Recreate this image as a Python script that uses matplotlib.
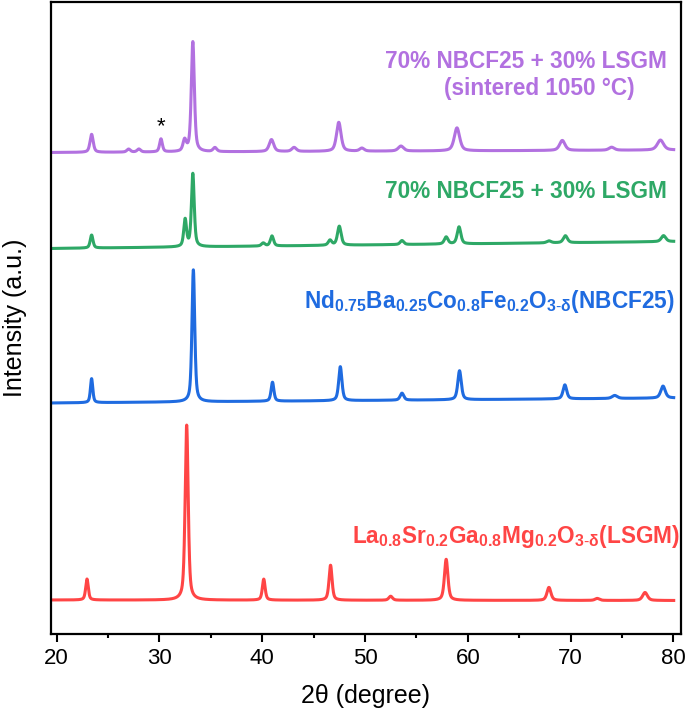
import numpy as np
import matplotlib
matplotlib.use("Agg")
import matplotlib.pyplot as plt

plt.rcParams['font.family'] = ['Liberation Sans', 'DejaVu Sans']
plt.rcParams['mathtext.fontset'] = 'custom'
plt.rcParams['mathtext.rm'] = 'Liberation Sans'
plt.rcParams['mathtext.bf'] = 'Liberation Sans:bold'
plt.rcParams['mathtext.it'] = 'Liberation Sans:italic'

# ---- data (2theta range, peak tables: position, intensity, FWHM) ----
two_theta_start = 19.4
two_theta_end = 80.05

lsgm_pos = [22.95, 32.65, 40.15, 46.65, 52.5, 57.9, 67.9, 72.6, 77.25]
lsgm_int = [21, 175, 21, 35, 4, 41, 13, 2, 8]
lsgm_fwhm = [0.3, 0.35, 0.32, 0.35, 0.42, 0.4, 0.45, 0.5, 0.55]
lsgm_bg = [33.5, 33.0]

nbcf_pos = [23.4, 33.3, 41.0, 47.6, 53.6, 59.2, 69.45, 74.3, 79.0]
nbcf_int = [24, 132, 19, 34, 7, 29, 14, 3, 12]
nbcf_fwhm = [0.27, 0.32, 0.32, 0.37, 0.42, 0.4, 0.42, 0.6, 0.52]
nbcf_bg = [230.5, 235.5]

mix_pos = [23.4, 32.5, 33.25, 40.1, 40.95, 46.6, 47.5, 53.6, 57.9, 59.15, 67.9, 69.5, 79.05]
mix_int = [13, 27, 73, 3, 10, 5, 19, 4, 7, 17, 2, 7, 6]
mix_fwhm = [0.32, 0.32, 0.32, 0.4, 0.37, 0.4, 0.42, 0.42, 0.42, 0.42, 0.5, 0.47, 0.52]
mix_bg = [385.0, 392.0]

sint_pos = [23.4, 27.0, 28.0, 30.15, 32.45, 33.25, 35.4, 40.9, 43.1, 47.45, 49.7, 53.5, 58.95, 69.2, 74.0, 78.75]
sint_int = [18, 3, 3, 13, 11, 110, 4, 12, 4, 29, 3, 5, 23, 10, 3, 10]
sint_fwhm = [0.37, 0.4, 0.4, 0.32, 0.37, 0.35, 0.42, 0.52, 0.52, 0.52, 0.52, 0.62, 0.62, 0.62, 0.62, 0.72]
sint_bg = [481.0, 483.5]

colors = {'lsgm': '#FF4545', 'nbcf': '#1F6BE0', 'mix': '#2EA866', 'sint': '#B271E0'}


def profile(x, pos, inten, fwhm, bg, eta=0.55):
    y = bg[0] + (bg[1] - bg[0]) * (x - two_theta_start) / (two_theta_end - two_theta_start)
    for p, h, w in zip(pos, inten, fwhm):
        g = np.exp(-4 * np.log(2) * ((x - p) / w) ** 2)
        l = 1.0 / (1.0 + 4 * ((x - p) / w) ** 2)
        y = y + h * (eta * l + (1 - eta) * g)
    return y


x = np.arange(two_theta_start, two_theta_end, 0.01)

fig = plt.figure(figsize=(6.85, 7.13), dpi=100)
ax = fig.add_axes([50.5 / 685, 1 - 633.5 / 713, (681 - 50.5) / 685, (633.5 - 1.5) / 713])

lw = 2.2
ax.plot(x, profile(x, lsgm_pos, lsgm_int, lsgm_fwhm, lsgm_bg), color=colors['lsgm'], lw=lw)
ax.plot(x, profile(x, nbcf_pos, nbcf_int, nbcf_fwhm, nbcf_bg), color=colors['nbcf'], lw=lw)
ax.plot(x, profile(x, mix_pos, mix_int, mix_fwhm, mix_bg), color=colors['mix'], lw=lw)
ax.plot(x, profile(x, sint_pos, sint_int, sint_fwhm, sint_bg), color=colors['sint'], lw=lw)

ax.set_xlim(19.4, 80.75)
ax.set_ylim(0, 632)

# asterisk above impurity peak
star_y = profile(np.array([30.15]), sint_pos, sint_int, sint_fwhm, sint_bg)[0]
ax.annotate('*', xy=(30.15, star_y), xytext=(0, 1), textcoords='offset points',
            ha='center', va='bottom', fontsize=16, color='black')

fs = 16.3
ax.text(0.978, 0.905, '70% NBCF25 + 30% LSGM', transform=ax.transAxes, ha='right', va='center',
        fontsize=fs, fontweight='bold', color=colors['sint'])
ax.text(0.775, 0.862, '(sintered 1050 °C)', transform=ax.transAxes, ha='center', va='center',
        fontsize=fs, fontweight='bold', color=colors['sint'])
ax.text(0.978, 0.699, '70% NBCF25 + 30% LSGM', transform=ax.transAxes, ha='right', va='center',
        fontsize=fs, fontweight='bold', color=colors['mix'])
ax.text(0.99, 0.525,
        r'$\mathbf{Nd_{0.75}Ba_{0.25}Co_{0.8}Fe_{0.2}O_{3\text{-}δ}(NBCF25)}$',
        transform=ax.transAxes, ha='right', va='center', fontsize=fs, color=colors['nbcf'])
ax.text(0.998, 0.153,
        r'$\mathbf{La_{0.8}Sr_{0.2}Ga_{0.8}Mg_{0.2}O_{3\text{-}δ}(LSGM)}$',
        transform=ax.transAxes, ha='right', va='center', fontsize=fs, color=colors['lsgm'])

ax.set_xticks([20, 30, 40, 50, 60, 70, 80])
ax.set_xticks([25, 35, 45, 55, 65, 75], minor=True)
ax.set_yticks([])
ax.tick_params(axis='x', which='major', direction='out', length=5.5, width=1.5, labelsize=16, pad=5)
ax.tick_params(axis='x', which='minor', direction='out', length=3, width=1.5)
for s in ax.spines.values():
    s.set_linewidth(1.6)

ax.set_xlabel('2θ (degree)', fontsize=18, labelpad=11)
ax.set_ylabel('Intensity (a.u.)', fontsize=18, labelpad=17)

fig.savefig('out.png', dpi=100)
